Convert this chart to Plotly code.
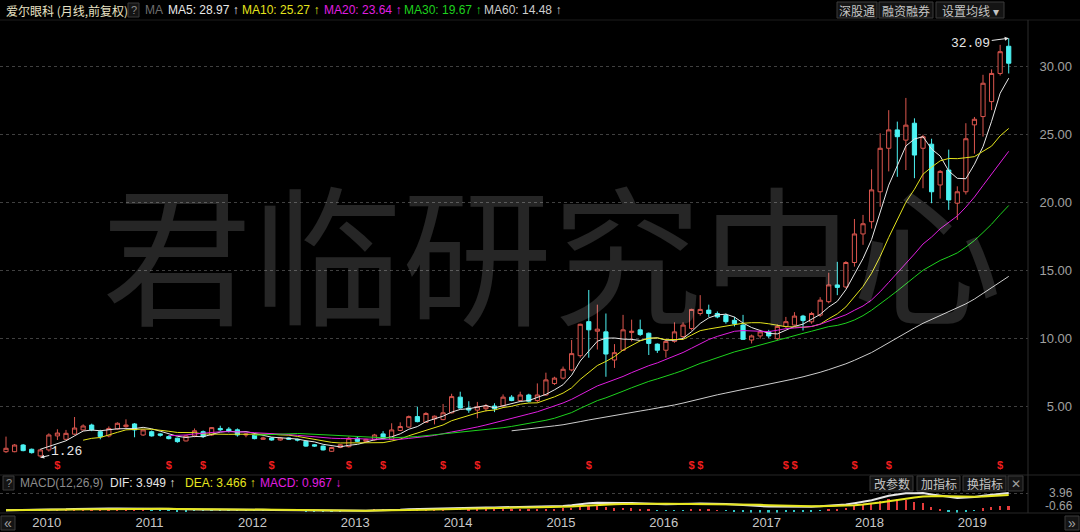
import pandas as pd
import plotly.graph_objects as go

W, H = 1080, 532

# monthly bars, Oct 2009 .. Jul 2019 (front-adjusted)
months = pd.date_range("2009-10-01", periods=118, freq="MS")

opens = [
    1.69, 1.69, 2.18, 1.87, 1.38, 1.82, 2.85, 2.60, 2.98, 3.29,
    3.65, 3.16, 2.85, 3.36, 3.53, 3.73, 2.92, 3.16, 3.00, 2.80,
    2.68, 2.48, 2.85, 3.16, 2.92, 3.40, 3.35, 3.30, 2.92, 2.90,
    2.60, 2.70, 2.55, 2.70, 2.60, 2.45, 2.20, 2.10, 1.72, 2.00,
    2.06, 2.68, 2.45, 2.55, 3.00, 2.60, 3.25, 3.50, 4.27, 3.85,
    4.10, 4.05, 4.55, 5.70, 4.90, 4.75, 4.85, 5.05, 5.06, 5.70,
    5.45, 5.86, 5.45, 5.86, 6.70, 7.10, 7.70, 8.75, 11.25, 10.55,
    10.50, 8.43, 9.15, 10.45, 10.65, 10.40, 9.60, 9.15, 9.80, 10.15,
    10.75, 11.85, 12.10, 11.85, 11.70, 11.35, 11.00, 9.90, 10.20, 10.50,
    10.00, 10.90, 11.00, 11.66, 11.24, 11.73, 12.72, 13.95, 13.80, 15.60,
    17.70, 18.60, 20.80, 24.00, 25.35, 24.60, 25.84, 24.00, 24.30, 21.30,
    22.40, 19.96, 20.80, 25.72, 26.33, 27.43, 29.50, 31.50,
]
highs = [
    2.80, 2.25, 2.25, 1.92, 1.90, 3.04, 3.34, 3.29, 4.24, 3.70,
    3.75, 3.30, 3.55, 3.85, 4.07, 3.80, 3.35, 3.25, 3.05, 2.90,
    2.72, 2.90, 3.40, 3.25, 3.50, 3.60, 3.50, 3.40, 3.05, 2.95,
    2.80, 2.75, 2.75, 2.75, 2.65, 2.50, 2.25, 2.15, 2.05, 2.25,
    2.80, 2.80, 2.65, 3.00, 3.20, 3.78, 3.85, 4.35, 5.00, 4.60,
    4.35, 5.20, 5.95, 6.10, 5.40, 5.35, 5.20, 5.25, 5.90, 5.85,
    6.10, 5.95, 6.71, 7.50, 7.20, 7.95, 9.90, 11.10, 13.58, 12.50,
    11.85, 9.60, 11.75, 11.40, 11.40, 10.45, 9.65, 10.00, 11.20, 11.20,
    12.20, 13.20, 12.50, 12.00, 11.85, 11.60, 11.75, 10.30, 10.65, 10.65,
    11.05, 11.60, 11.95, 11.75, 11.97, 13.05, 14.85, 15.65, 15.70, 18.80,
    19.10, 22.45, 25.10, 26.80, 25.96, 27.70, 26.20, 25.00, 24.70, 22.40,
    23.90, 21.20, 25.84, 26.30, 29.40, 29.80, 31.60, 32.09,
]
lows = [
    1.60, 1.65, 1.72, 1.55, 1.26, 1.70, 2.55, 2.55, 2.90, 3.25,
    3.20, 2.60, 2.75, 3.30, 3.45, 2.75, 2.85, 2.80, 2.80, 2.60,
    2.35, 2.45, 2.75, 2.70, 2.85, 3.20, 3.10, 2.80, 2.75, 2.60,
    2.55, 2.50, 2.50, 2.55, 2.45, 2.05, 2.05, 1.78, 1.68, 1.95,
    2.00, 2.40, 2.40, 2.50, 2.60, 2.55, 3.20, 3.45, 3.85, 3.80,
    3.70, 4.00, 4.50, 4.85, 4.55, 4.15, 4.65, 4.60, 4.95, 5.40,
    5.40, 5.30, 5.30, 5.80, 6.60, 7.00, 7.60, 8.60, 8.60, 9.20,
    7.20, 7.85, 9.10, 9.80, 10.20, 8.80, 8.95, 8.60, 9.70, 10.00,
    10.60, 11.70, 11.60, 11.50, 11.10, 10.90, 9.90, 9.65, 10.00, 10.05,
    9.90, 10.80, 10.95, 10.60, 11.10, 11.60, 12.60, 13.20, 13.70, 15.30,
    16.90, 18.10, 19.70, 22.30, 21.90, 22.40, 21.80, 21.06, 19.96, 20.30,
    19.47, 18.73, 20.60, 23.60, 24.86, 26.80, 29.35, 29.50,
]
closes = [
    1.94, 2.18, 1.77, 1.62, 1.82, 2.92, 3.06, 3.04, 3.43, 3.58,
    3.30, 2.80, 3.40, 3.78, 3.65, 3.29, 3.29, 2.85, 2.90, 2.65,
    2.43, 2.85, 3.23, 2.80, 3.46, 3.30, 3.20, 2.92, 2.98, 2.65,
    2.70, 2.55, 2.70, 2.60, 2.55, 2.10, 2.10, 1.82, 2.00, 2.20,
    2.68, 2.45, 2.60, 2.92, 2.68, 3.29, 3.54, 4.27, 3.90, 4.50,
    4.30, 4.55, 5.74, 4.90, 4.75, 5.00, 5.05, 4.85, 5.70, 5.45,
    5.86, 5.40, 5.86, 6.97, 7.10, 7.75, 8.90, 11.06, 10.65, 10.70,
    8.87, 8.97, 10.65, 10.55, 10.30, 9.65, 9.15, 9.80, 10.50, 11.00,
    12.15, 12.15, 11.85, 11.60, 11.25, 11.10, 9.95, 10.20, 10.50, 10.20,
    10.90, 11.25, 11.66, 11.33, 11.85, 12.83, 13.95, 13.77, 15.60, 17.70,
    18.45, 20.94, 24.00, 25.35, 24.85, 25.70, 23.50, 24.85, 20.80, 22.30,
    20.20, 20.80, 24.70, 26.13, 28.78, 29.50, 31.10, 30.25,
]

# bars carrying the red "$" (dividend) flag
dividend_idx = [6, 19, 23, 31, 40, 44, 51, 55, 68, 80, 81, 91, 92, 99, 103, 116]

price_ticks = [5, 10, 15, 20, 25, 30]
ma_periods = [5, 10, 20, 30, 60]
ma_last = [28.97, 25.27, 23.64, 19.67, 14.48]
ma_colors = ["#e8e8e8", "#e4e41c", "#e01ee0", "#1ed21e", "#cdcdcd"]
dif_last, dea_last, macd_last = 3.949, 3.466, 0.967
macd_min_label, macd_max_label = -0.66, 3.96

UP = "#dc564e"
DOWN = "#4cf2f2"
GRID = "#404040"
FONT = "Liberation Sans, Arial, sans-serif"
CN = "Noto Sans CJK SC, sans-serif"

idx = list(range(len(closes)))
close_s = pd.Series(closes)
dif = close_s.ewm(span=12, adjust=False).mean() - close_s.ewm(span=26, adjust=False).mean()
dea = dif.ewm(span=9, adjust=False).mean()
hist = 2 * (dif - dea)

jan_idx = [i for i, m in enumerate(months) if m.month == 1]
year_text = [str(months[i].year) for i in jan_idx]

fig = go.Figure()

fig.add_trace(go.Candlestick(
    x=idx, open=opens, high=highs, low=lows, close=closes,
    increasing=dict(line=dict(color=UP, width=1), fillcolor="#000000"),
    decreasing=dict(line=dict(color=DOWN, width=1), fillcolor=DOWN),
    whiskerwidth=0, hoverinfo="skip", xaxis="x", yaxis="y",
))

for p, c in zip(ma_periods, ma_colors):
    fig.add_trace(go.Scatter(
        x=idx, y=close_s.rolling(p).mean(), mode="lines",
        line=dict(color=c, width=1), hoverinfo="skip", xaxis="x", yaxis="y",
    ))

fig.add_trace(go.Scatter(
    x=dividend_idx, y=[0.62] * len(dividend_idx), mode="text", text=["<b>$</b>"] * len(dividend_idx),
    textfont=dict(color="#f01e1e", size=11, family=FONT), hoverinfo="skip", xaxis="x", yaxis="y",
))

# MACD panel
fig.add_trace(go.Bar(
    x=idx, y=hist, width=0.2,
    marker=dict(color=["#e63c3c" if v >= 0 else "#2ec8c8" for v in hist], line=dict(width=0)),
    hoverinfo="skip", xaxis="x2", yaxis="y2",
))
fig.add_trace(go.Scatter(x=idx, y=dif, mode="lines", line=dict(color="#e6e6e6", width=2),
                         hoverinfo="skip", xaxis="x2", yaxis="y2"))
fig.add_trace(go.Scatter(x=idx, y=dea, mode="lines", line=dict(color="#e6e61e", width=2),
                         hoverinfo="skip", xaxis="x2", yaxis="y2"))


def px(x):
    return x / W


def py(y):
    return 1 - y / H


def label(text, x, y, color, size=12, family=FONT, anchor="left"):
    return dict(text=text, x=px(x), y=py(y), xref="paper", yref="paper", xanchor=anchor,
                yanchor="middle", showarrow=False, font=dict(color=color, size=size, family=family))


def box(x0, y0, x1, y1, fill="#141414", line="#3a3a3a"):
    return dict(type="rect", xref="paper", yref="paper", x0=px(x0), x1=px(x1), y0=py(y1), y1=py(y0),
                fillcolor=fill, line=dict(color=line, width=1))


def hline(y, x0=0, x1=W, color="#262626"):
    return dict(type="line", xref="paper", yref="paper", x0=px(x0), x1=px(x1), y0=py(y), y1=py(y),
                line=dict(color=color, width=1))


shapes = [
    hline(20, color="#1c1c1c"), hline(475), hline(513),
    dict(type="line", xref="paper", yref="paper", x0=px(1028), x1=px(1028), y0=py(513), y1=py(20),
         line=dict(color="#2c2c2c", width=1)),
    box(128, 3, 139, 17), box(837, 2, 877, 18), box(879, 2, 933, 18), box(936, 2, 1004, 18),
    box(3, 476, 14, 490), box(870, 476, 913, 491), box(917, 476, 960, 491), box(963, 476, 1006, 491),
    box(1008, 476, 1023, 491), box(1, 516, 15, 530), box(1065, 516, 1079, 530),
]

annotations = [
    dict(text="君临研究中心", x=px(552), y=py(248), xref="paper", yref="paper", showarrow=False,
         font=dict(size=150, color="rgba(255,255,255,0.15)", family=CN)),
    label("爱尔眼科 (月线,前复权)", 4, 10, "#e8e2c4", 12, CN),
    label("?", 133.5, 10, "#8a8a8a", 11, FONT, "center"),
    label("MA", 143, 10, "#6e6e6e", 12),
]
ma_x = [166, 240, 322, 402, 482]
for p, v, c, x in zip(ma_periods, ma_last, ma_colors, ma_x):
    annotations.append(label(f"MA{p}: {v:.2f} ↑", x, 10, c, 12))
for t, x in [("深股通", 857), ("融资融券", 906), ("设置均线 ▾", 970)]:
    annotations.append(label(t, x, 10, "#c4c4c4", 12, CN, "center"))

annotations += [
    label("?", 8.5, 483, "#8a8a8a", 11, FONT, "center"),
    label("MACD(12,26,9)", 18, 483, "#8c8c8c", 12),
    label(f"DIF: {dif_last:.3f} ↑", 108, 483, "#e6e6e6", 12),
    label(f"DEA: {dea_last:.3f} ↑", 183, 483, "#e6e61e", 12),
    label(f"MACD: {macd_last:.3f} ↓", 258, 483, "#e01ee0", 12),
    label("改参数", 891.5, 483.5, "#c4c4c4", 12, CN, "center"),
    label("加指标", 938.5, 483.5, "#c4c4c4", 12, CN, "center"),
    label("换指标", 984.5, 483.5, "#c4c4c4", 12, CN, "center"),
    label("✕", 1015.5, 483.5, "#a0a0a0", 12, FONT, "center"),
    label(f"{macd_max_label:.2f}", 1075, 493, "#a0a0a0", 12, FONT, "right"),
    label(f"{macd_min_label:.2f}", 1075, 505.5, "#a0a0a0", 12, FONT, "right"),
    label("«", 8, 522.5, "#a0a0a0", 14, FONT, "center"),
    label("»", 1072, 522.5, "#a0a0a0", 14, FONT, "center"),
]

low_i = lows.index(min(lows))
high_i = highs.index(max(highs))
annotations += [
    dict(x=low_i, y=lows[low_i], xref="x", yref="y", text=f"{lows[low_i]:.2f}", showarrow=True,
         ax=26, ay=-6, arrowhead=2, arrowsize=0.8, arrowwidth=1, arrowcolor="#e6e6e6", standoff=0,
         font=dict(color="#e6e6e6", size=13, family="Liberation Mono, monospace")),
    dict(x=high_i, y=highs[high_i], xref="x", yref="y", text=f"{highs[high_i]:.2f}", showarrow=True,
         ax=-38, ay=5, arrowhead=2, arrowsize=0.8, arrowwidth=1, arrowcolor="#e6e6e6", standoff=0,
         font=dict(color="#e6e6e6", size=13, family="Liberation Mono, monospace")),
]

X_END = 1028 / W
xr = [-0.7, 119.25]
fig.update_layout(
    width=W, height=H, margin=dict(l=0, r=0, t=0, b=0),
    paper_bgcolor="#000000", plot_bgcolor="#000000", showlegend=False, bargap=0,
    xaxis=dict(domain=[0, X_END], range=xr, anchor="y", showticklabels=False, showgrid=False,
               zeroline=False, rangeslider=dict(visible=False)),
    yaxis=dict(domain=[py(474), py(20)], range=[0.05, 33.43], anchor="free", position=px(1075),
               side="right", ticklabelposition="inside", tickvals=price_ticks,
               ticktext=[f"{v:.2f}" for v in price_ticks], showgrid=True, gridcolor=GRID,
               griddash="dot", zeroline=False, tickfont=dict(color="#a0a0a0", size=13, family=FONT)),
    xaxis2=dict(domain=[0, X_END], range=xr, anchor="y2", matches="x", showgrid=False, zeroline=False,
                tickvals=[i + 1.75 for i in jan_idx], ticktext=year_text, ticks="",
                tickfont=dict(color="#c8c8c8", size=13, family=FONT)),
    yaxis2=dict(domain=[py(513), py(476)], range=[-0.66, 7.9], anchor="free", position=px(1075),
                side="right", showticklabels=False, tickvals=[macd_max_label], showgrid=True,
                gridcolor=GRID, griddash="dot", zeroline=False),
    shapes=shapes, annotations=annotations,
)

# page body has a default 8px margin; drop it so the figure fills the window
fig.write_html("out.html", config={"displayModeBar": False},
               post_script="document.body.style.margin='0px';")
